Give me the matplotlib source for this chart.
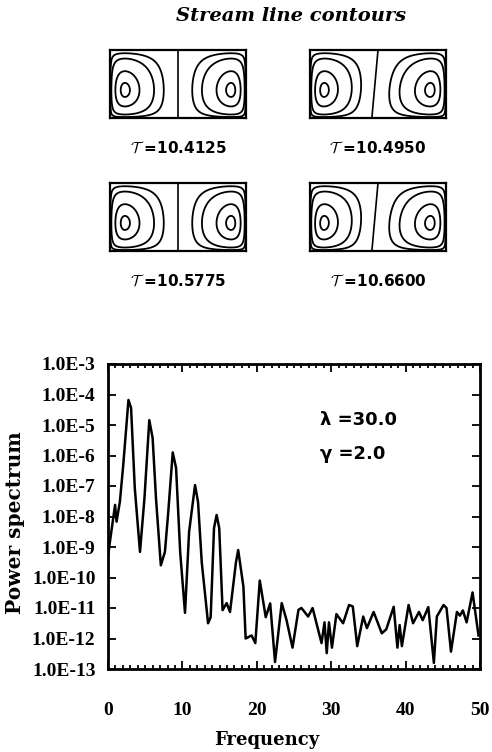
import numpy as np
import matplotlib
matplotlib.use('Agg')
import matplotlib.pyplot as plt
from matplotlib.ticker import FixedLocator, MultipleLocator, NullLocator

plt.rcParams['mathtext.fontset'] = 'cm'

# power spectrum (frequency, log10 of power)
freq = [0.05, 0.2, 0.95, 1.15, 1.6, 2.05, 2.75, 3.1, 3.6, 4.3,
        4.9, 5.55, 6.0, 6.45, 7.1, 7.65, 8.1, 8.7, 9.15, 9.7,
        10.35, 10.9, 11.7, 12.1, 12.6, 13.45, 13.8, 14.25, 14.6, 14.95,
        15.4, 15.95, 16.4, 17.2, 17.5, 18.2, 18.5, 19.3, 19.8, 20.4,
        21.2, 21.8, 22.45, 23.35, 24.0, 24.8, 25.6, 26.0, 26.9, 27.5,
        28.7, 29.1, 29.4, 29.7, 30.1, 30.7, 31.6, 32.4, 32.9, 33.5,
        34.3, 34.8, 35.7, 36.8, 37.4, 38.4, 38.9, 39.2, 39.5, 40.4,
        41.0, 41.8, 42.3, 43.05, 43.8, 44.2, 45.1, 45.5, 46.1, 46.9,
        47.3, 47.7, 48.2, 49.0, 49.8]
log_power = [-9.26, -8.93, -7.62, -8.17, -7.51, -6.31, -4.18, -4.44, -7.07, -9.16,
             -7.4, -4.84, -5.43, -7.4, -9.6, -9.16, -7.85, -5.9, -6.41, -9.16,
             -11.16, -8.5, -6.97, -7.52, -9.5, -11.5, -11.3, -8.38, -7.95, -8.38,
             -11.07, -10.84, -11.13, -9.5, -9.1, -10.3, -12.0, -11.9, -12.15, -10.1,
             -11.3, -10.85, -12.77, -10.84, -11.4, -12.3, -11.06, -11.0, -11.28, -11.0,
             -12.15, -11.47, -12.48, -11.47, -12.3, -11.2, -11.5, -10.9, -10.95, -12.25,
             -11.28, -11.66, -11.13, -11.83, -11.7, -10.96, -12.3, -11.56, -12.25, -10.9,
             -11.5, -11.13, -11.4, -10.97, -12.8, -11.28, -10.9, -11.0, -12.43, -11.13,
             -11.25, -11.08, -11.47, -10.49, -11.9]

y_decades = list(range(-13, -2))
x_ticks = [0, 10, 20, 30, 40, 50]

# stream line snapshots
times = ['10.4125', '10.4950', '10.5775', '10.6600']
divider_shift = [0.0, 0.09, 0.0, 0.09]   # how far the cell divider leans at the bottom
eye_u = 0.78      # eye position measured from divider toward outer wall
eye_v = 0.41      # eye height above the bottom wall
psi_levels = [0.04, 0.17, 0.6, 0.93]

lam = '30.0'
gam = '2.0'

W, H = 492, 752
fig = plt.figure(figsize=(W / 100, H / 100), dpi=100)


def box(x0, y0, x1, y1):
    return [x0 / W, 1 - y1 / H, (x1 - x0) / W, (y1 - y0) / H]


fig.text(291 / W, 1 - 16 / H, 'Stream line contours', ha='center', va='center',
         family='DejaVu Serif', style='italic', weight='bold', fontsize=14)

p_exp = np.log(0.5) / np.log(eye_u)
q_exp = np.log(0.5) / np.log(eye_v)
xg = np.linspace(0, 2, 401)
yg = np.linspace(0, 1, 201)
X, Y = np.meshgrid(xg, yg)

panel_pos = [(110, 50), (310, 50), (110, 183), (310, 183)]
pw, ph = 136, 68
for k, (x0, y0) in enumerate(panel_pos):
    pa = fig.add_axes(box(x0, y0, x0 + pw, y0 + ph))
    xc = 1.0 - divider_shift[k] * (1 - Y)
    u = np.where(X < xc, (xc - X) / xc, (X - xc) / (2 - xc))
    u = np.clip(u, 0, 1)
    S = np.sin(np.pi * u ** p_exp) * np.sin(np.pi * Y ** q_exp) ** 1.5
    pa.contour(X, Y, S, levels=psi_levels, colors='black', linewidths=1.3)
    pa.plot(1.0 - divider_shift[k] * (1 - yg), yg, color='black', lw=1.2)
    pa.set_xlim(0, 2)
    pa.set_ylim(0, 1)
    pa.set_xticks([])
    pa.set_yticks([])
    for s in pa.spines.values():
        s.set_linewidth(1.6)
    fig.text((x0 + pw / 2) / W, 1 - (y0 + ph + 30) / H,
             r'$\mathcal{T}$ =' + times[k], ha='center', va='center',
             family='DejaVu Sans', weight='bold', fontsize=11)

ax = fig.add_axes(box(108, 364, 480, 669))
ax.plot(freq, 10.0 ** np.array(log_power), color='black', lw=1.8)
ax.set_yscale('log')
ax.set_xlim(0, 50)
ax.set_ylim(1e-13, 1e-3)
ax.yaxis.set_major_locator(FixedLocator([10.0 ** d for d in y_decades]))
ax.yaxis.set_minor_locator(NullLocator())
ax.set_yticklabels(['1.0E%d' % d for d in y_decades])
ax.set_xticks(x_ticks)
ax.xaxis.set_minor_locator(MultipleLocator(1))
ax.tick_params(which='both', direction='in', top=True, right=True, width=1.3)
ax.tick_params(which='major', length=6)
ax.tick_params(which='minor', length=3)
ax.tick_params(axis='x', pad=24)
ax.tick_params(axis='y', pad=9)
for lab in ax.get_xticklabels() + ax.get_yticklabels():
    lab.set_family('Liberation Serif')
    lab.set_weight('bold')
    lab.set_fontsize(14)
for s in ax.spines.values():
    s.set_linewidth(2)

ax.set_xlabel('Frequency', family='DejaVu Serif', weight='bold', fontsize=13)
ax.xaxis.set_label_coords((267 - 108) / 372, -(731 - 669) / 305)
ax.set_ylabel('Power spectrum', family='DejaVu Serif', weight='bold', fontsize=14.5)
ax.yaxis.set_label_coords(-(108 - 25) / 372, 0.48)

ax.text((320 - 108) / 372, (669 - 420) / 305, 'λ =' + lam, transform=ax.transAxes,
        ha='left', va='center', family='DejaVu Sans', weight='bold', fontsize=13)
ax.text((320 - 108) / 372, (669 - 454) / 305, 'γ =' + gam, transform=ax.transAxes,
        ha='left', va='center', family='DejaVu Sans', weight='bold', fontsize=13)

fig.savefig('out.png', dpi=100)
